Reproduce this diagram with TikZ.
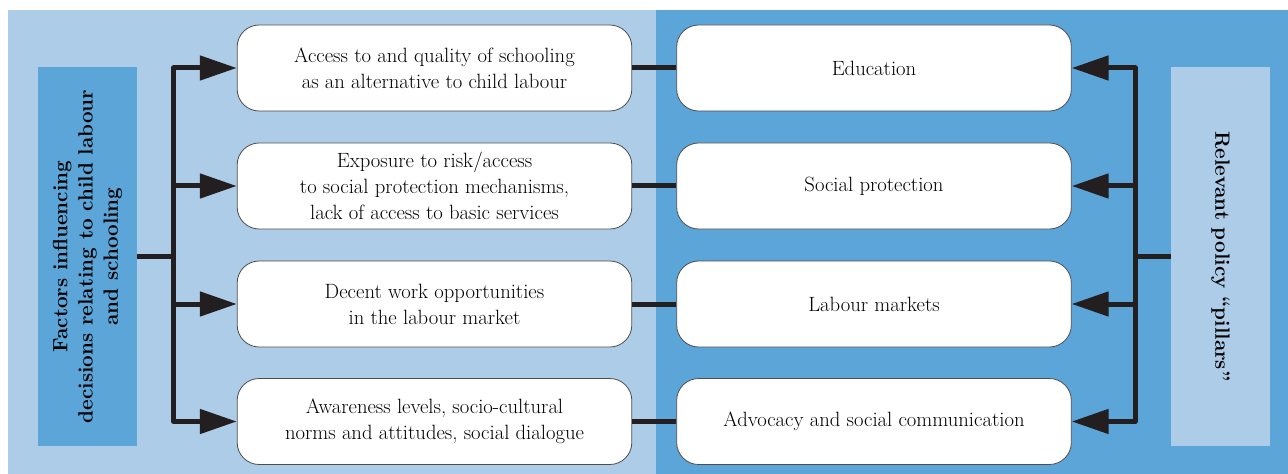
\documentclass[tikz,border=0pt]{standalone}
\usetikzlibrary{arrows.meta}
\definecolor{paleblue}{RGB}{172,204,232}
\definecolor{midblue}{RGB}{92,165,217}
\definecolor{inkline}{RGB}{35,31,32}

\begin{document}
\begin{tikzpicture}[x=0.75pt,y=-0.75pt,
  factor/.style={draw=inkline!80,line width=0.6pt,fill=white,rounded corners=16.5pt,
    minimum width=296pt,minimum height=64.5pt,align=center,inner sep=2pt,
    font=\fontsize{15.5}{19.5}\selectfont},
  sidebox/.style={minimum width=74.25pt,minimum height=284.25pt,inner sep=0pt},
  sidetext/.style={align=center,font=\fontsize{15.5}{19}\selectfont\bfseries},
  feed/.style={draw=inkline,line width=3.75pt,line join=round,-{Triangle[length=27.75pt,width=18pt]}},
  link/.style={draw=inkline,line width=3.75pt}]
  \useasboundingbox (0,0) rectangle (1288,474);
  \fill[paleblue] (8,10) rectangle (656,474);
  \fill[midblue] (656,10) rectangle (1288,474);

  \node[sidebox,fill=midblue] (lbox) at (87.5,256.5) {};
  \node[sidetext,rotate=90] (ltext) at (lbox.center)
    {Factors influencing\\decisions relating to child labour\\and schooling};
  \node[sidebox,fill=paleblue] (rbox) at (1220.5,256.5) {};
  \node[sidetext,rotate=-90] (rtext) at (rbox.center) {Relevant policy ``pillars''};

  \node[factor] (a1) at (434.5,68) {Access to and quality of schooling\\as an alternative to child labour};
  \node[factor] (a2) at (434.5,186) {Exposure to risk/access\\to social protection mechanisms,\\lack of access to basic services};
  \node[factor] (a3) at (434.5,304) {Decent work opportunities\\in the labour market};
  \node[factor] (a4) at (434.5,421.5) {Awareness levels, socio-cultural\\norms and attitudes, social dialogue};

  \node[factor] (b1) at (874,68) {Education};
  \node[factor] (b2) at (874,186) {Social protection};
  \node[factor] (b3) at (874,304) {Labour markets};
  \node[factor] (b4) at (874,421.5) {Advocacy and social communication};

  \coordinate (lhub) at (173.5,256.5);
  \coordinate (rhub) at (1135,256.5);
  \draw[link] (lbox.east) -- (lhub);
  \draw[link] (rbox.west) -- (rhub);
  \foreach \i in {1,...,4}{
    \draw[feed] (lhub) |- (a\i);
    \draw[feed] (rhub) |- (b\i);
    \draw[link] (a\i) -- (b\i);
  }
\end{tikzpicture}
\end{document}
